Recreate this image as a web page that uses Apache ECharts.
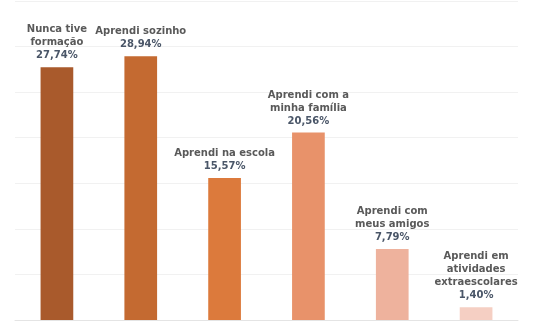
<!DOCTYPE html>
<html>
<head>
<meta charset="utf-8">
<script src="https://cdn.jsdelivr.net/npm/echarts@6/dist/echarts.min.js"></script>
<style>
  html, body { margin: 0; padding: 0; background: #fff; }
  #chart { width: 542px; height: 323px; }
</style>
</head>
<body>
<div id="chart"></div>
<script>
// categories and values
var categories = ['Nunca tive\nformação', 'Aprendi sozinho', 'Aprendi na escola',
  'Aprendi com a\nminha família', 'Aprendi com\nmeus amigos', 'Aprendi em\natividades\nextraescolares'];
var values = [27.74, 28.94, 15.57, 20.56, 7.79, 1.40];
var barColors = ['#a95a2c', '#c46a31', '#dc7a3c', '#e8926a', '#eeb29d', '#f5cfc3'];

var chart = echarts.init(document.getElementById('chart'));

var option = {
  animation: false,
  grid: { left: 15, right: 24, top: 1, bottom: 3 },
  xAxis: {
    type: 'category',
    data: categories,
    axisLine: { show: true, lineStyle: { color: '#e4e4e4' } },
    axisTick: { show: false },
    axisLabel: { show: false }
  },
  yAxis: {
    type: 'value',
    min: 0,
    max: 35,
    interval: 5,
    axisLine: { show: false },
    axisTick: { show: false },
    axisLabel: { show: false },
    splitLine: { lineStyle: { color: '#f1f1f1' } }
  },
  series: [{
    type: 'bar',
    barWidth: '39%',
    data: values.map(function (v, i) {
      return { value: v, itemStyle: { color: barColors[i] } };
    }),
    label: {
      show: true,
      position: 'top',
      distance: 5,
      formatter: function (p) {
        return '{n|' + categories[p.dataIndex].split('\n').join('}\n{n|') + '}\n{p|' +
          p.value.toFixed(2).replace('.', ',') + '%}';
      },
      rich: {
        n: { fontFamily: 'DejaVu Sans', fontWeight: 'bold', fontSize: 10, color: '#595959', lineHeight: 13 },
        p: { fontFamily: 'DejaVu Sans', fontWeight: 'bold', fontSize: 10, color: '#4a5668', lineHeight: 13 }
      }
    }
  }]
};

chart.setOption(option);
</script>
</body>
</html>
